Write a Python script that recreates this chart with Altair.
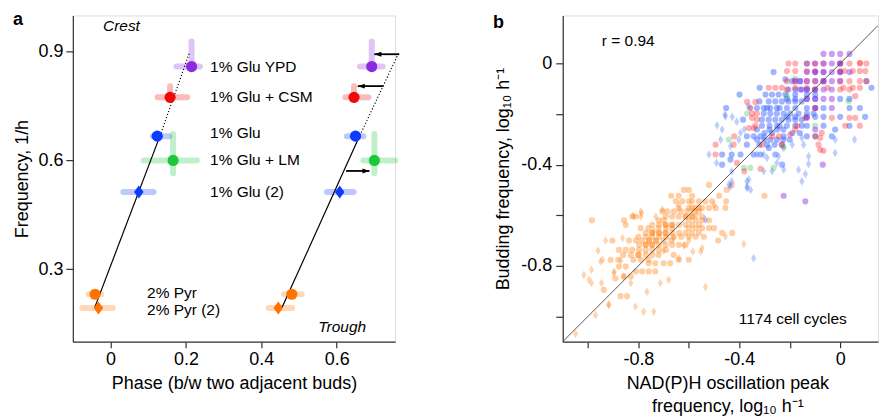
import altair as alt
import pandas as pd

FONT = "Liberation Sans"

# ------------------------------------------------------------------ panel a data
conditions = ["1% Glu YPD", "1% Glu + CSM", "1% Glu", "1% Glu + LM", "1% Glu (2)", "2% Pyr", "2% Pyr (2)"]
cond_shape = ["circle", "circle", "circle", "circle", "diamond", "circle", "diamond"]
cond_color = ["#8a2be2", "#ee0a0a", "#0a3cff", "#1ec83c", "#0a3cff", "#ff7400", "#ff7400"]
freq = [0.859, 0.774, 0.667, 0.600, 0.513, 0.231, 0.193]
freq_lo = [0.855, 0.767, 0.667, 0.565, 0.513, 0.231, 0.193]
freq_hi = [0.928, 0.805, 0.667, 0.673, 0.513, 0.231, 0.193]
phase_crest = [0.215, 0.158, 0.124, 0.166, 0.075, -0.041, -0.032]
crest_lo = [0.175, 0.125, 0.112, 0.088, 0.034, -0.058, -0.075]
crest_hi = [0.237, 0.203, 0.156, 0.229, 0.114, -0.025, 0.006]
phase_trough = [0.693, 0.646, 0.650, 0.700, 0.608, 0.481, 0.445]
trough_lo = [0.662, 0.623, 0.627, 0.671, 0.574, 0.460, 0.420]
trough_hi = [0.722, 0.684, 0.671, 0.755, 0.645, 0.507, 0.482]

fit_x1 = [-0.042, 0.131, 0.455, 0.658]
fit_y1 = [0.194, 0.667, 0.194, 0.661]
fit_x2 = [0.131, 0.209, 0.658, 0.766]
fit_y2 = [0.667, 0.896, 0.661, 0.900]
fit_style = ["solid", "dotted", "solid", "dotted"]

arrow_from = [0.766, 0.724, 0.625]
arrow_to = [0.700, 0.656, 0.687]
arrow_freq = [0.893, 0.805, 0.571]
arrow_dir = ["left", "left", "right"]

label_text = ["1% Glu YPD", "1% Glu + CSM", "1% Glu", "1% Glu + LM", "1% Glu (2)", "2% Pyr", "2% Pyr (2)"]
label_x = [0.264, 0.264, 0.264, 0.264, 0.264, 0.097, 0.097]
label_y = [0.859, 0.775, 0.675, 0.600, 0.513, 0.235, 0.188]
italic_text = ["Crest", "Trough"]
italic_x = [-0.020, 0.678]
italic_y = [0.971, 0.141]
italic_align = ["left", "right"]

# ------------------------------------------------------------------ panel b data
pyr_circle_rows = [
    (-0.480, [-0.52, -0.43]),
    (-0.500, [-0.62, -0.60, -0.45]),
    (-0.523, [-0.67, -0.64, -0.587, -0.48, -0.30]),
    (-0.545, [-0.652, -0.626, -0.600, -0.587, -0.560, -0.534, -0.508, -0.452]),
    (-0.571, [-0.640, -0.600, -0.573, -0.547, -0.520, -0.494, -0.455, -0.587, -0.560]),
    (-0.585, [-0.705, -0.685, -0.659, -0.632, -0.606, -0.580, -0.560]),
    (-0.605, [-0.824, -0.810, -0.692, -0.666, -0.640, -0.613, -0.587, -0.547, -0.613, -0.587]),
    (-0.620, [-0.984, -0.857, -0.720, -0.700, -0.600, -0.573, -0.547, -0.520]),
    (-0.638, [-0.850, -0.745, -0.718, -0.692, -0.666, -0.639, -0.613, -0.587, -0.560, -0.692, -0.666]),
    (-0.651, [-0.791, -0.760, -0.720, -0.690, -0.666, -0.600, -0.573, -0.547, -0.520, -0.500]),
    (-0.670, [-0.771, -0.745, -0.718, -0.692, -0.666, -0.639, -0.613, -0.587, -0.560, -0.468, -0.428,
              -0.745, -0.718, -0.692]),
    (-0.685, [-0.800, -0.770, -0.745, -0.718, -0.690, -0.660, -0.630, -0.600, -0.573, -0.540]),
    (-0.700, [-0.903, -0.837, -0.810, -0.785, -0.758, -0.730, -0.700, -0.670, -0.484, -0.758, -0.730]),
    (-0.717, [-0.797, -0.771, -0.745, -0.718, -0.692, -0.666, -0.639, -0.613, -0.771, -0.745]),
    (-0.737, [-0.877, -0.850, -0.824, -0.797, -0.771, -0.745, -0.718, -0.690]),
    (-0.757, [-0.860, -0.830, -0.800, -0.770, -0.745, -0.720, -0.660, -0.800]),
    (-0.776, [-0.910, -0.880, -0.820, -0.790, -0.760, -0.640, -0.600]),
    (-0.790, [-0.759, -0.733, -0.700, -0.674]),
    (-0.803, [-0.877, -0.850]),
    (-0.822, [-0.810, -0.785, -0.759, -0.733]),
    (-0.842, [-0.858, -0.830]),
    (-0.850, [-0.891]),
    (-0.895, [-0.937]),
    (-0.920, [-0.871, -0.845]),
]
pyr2_x = [-1.049, -1.016, -0.986, -0.996, -0.986, -0.950, -0.946, -0.897, -0.917, -0.970,
          -0.812, -0.779, -0.739, -0.766, -0.713, -0.680, -0.830, -0.858, -0.534, -0.639,
          -0.553, -0.382, -0.455, -0.547, -0.584, -0.863, -0.791, -0.791, -0.821, -0.787,
          -0.731, -0.705, -0.942, -0.896, -0.600, -0.620, -0.660, -0.700, -0.740, -0.640,
          -0.570, -0.500, -0.930, -0.960, -0.870, -0.918]
pyr2_y = [-1.069, -0.836, -0.816, -0.855, -0.868, -0.783, -0.868, -0.829, -0.954, -0.994,
          -0.961, -0.981, -0.981, -0.902, -0.868, -0.855, -0.868, -0.842, -0.884, -0.770,
          -0.743, -0.713, -0.684, -0.730, -0.743, -0.690, -0.585, -0.605, -0.602, -0.591,
          -0.605, -0.578, -0.776, -0.823, -0.700, -0.720, -0.690, -0.740, -0.660, -0.560,
          -0.600, -0.560, -0.700, -0.740, -0.780, -0.954]
glu_circle_rows = [
    (-0.034, [-0.264, 0.000]),
    (-0.063, [-0.217]),
    (-0.070, [0.104, -0.190, -0.160]),
    (-0.096, [-0.319, 0.124]),
    (-0.103, [-0.205, -0.178, -0.152, -0.132, -0.100]),
    (-0.123, [-0.399, -0.296, -0.270, -0.244, -0.217, -0.178, -0.132, -0.099]),
    (-0.140, [-0.211, -0.178, -0.132, -0.099, 0.000, 0.037]),
    (-0.150, [-0.320, -0.283, -0.257, -0.231, -0.205, -0.178, -0.152]),
    (-0.176, [-0.452, -0.330, -0.303, -0.290, -0.277, -0.251, -0.240, -0.211, -0.178, -0.132, -0.099,
              -0.066, 0.037, 0.078]),
    (-0.198, [-0.303, -0.277, -0.251, -0.224, -0.198, -0.165, -0.132, -0.105]),
    (-0.211, [-0.211, -0.178, -0.132, -0.099, -0.066, 0.000, 0.099]),
    (-0.222, [-0.385, -0.310, -0.283, -0.257, -0.231, -0.205, -0.178, -0.152]),
    (-0.246, [-0.310, -0.280, -0.250, -0.240, -0.211, -0.178, -0.152, -0.132, -0.066, 0.037]),
    (-0.261, [-0.330, -0.280, -0.250, -0.225, -0.020]),
    (-0.275, [-0.300, -0.270, -0.190, -0.160]),
    (-0.288, [-0.370, -0.343, -0.316, -0.224, -0.132, -0.099, -0.033]),
    (-0.301, [-0.330, -0.300, -0.277, -0.251, -0.225, -0.200]),
    (-0.321, [-0.370, -0.320, -0.290, -0.260, -0.231]),
    (-0.334, [-0.283]),
    (-0.360, [-0.468, -0.430, -0.395, -0.343, -0.316, -0.257]),
    (-0.380, [-0.435]),
    (-0.400, [-0.468, -0.230]),
]
glu2_x = [-0.534, -0.441, -0.369, -0.152, -0.343, -0.457, -0.428, -0.488, -0.356, -0.468,
          -0.474, -0.402, -0.395, -0.435, -0.362, -0.369, -0.435, -0.290, -0.244, -0.251,
          -0.020, 0.057, -0.020, -0.125, -0.125, -0.165, -0.138, -0.224, -0.224, -0.152,
          -0.365, -0.455, -0.190, -0.145, -0.330, -0.303, -0.490, -0.430, -0.303, -0.270,
          -0.430, -0.370, -0.355, -0.520, -0.410, -0.380, -0.300]
glu2_y = [-0.618, -0.479, -0.492, -0.466, -0.770, -0.202, -0.211, -0.244, -0.176, -0.261,
          -0.301, -0.301, -0.274, -0.327, -0.459, -0.486, -0.486, -0.373, -0.367, -0.393,
          -0.301, -0.301, -0.354, -0.367, -0.397, -0.420, -0.437, -0.420, -0.334, -0.294,
          -0.169, -0.209, -0.321, -0.321, -0.360, -0.360, -0.393, -0.426, -0.426, -0.426,
          -0.466, -0.466, -0.500, -0.360, -0.230, -0.260, -0.290]
csm_rows = [
    (0.003, [0.079]),
    (0.000, [-0.205, -0.178, -0.132, -0.100, -0.066, 0.000, 0.037, 0.078, 0.104]),
    (-0.030, [-0.211, -0.178, -0.132, -0.099, 0.000, 0.017, 0.050, 0.078, 0.100]),
    (-0.070, [-0.211, -0.178, -0.132, -0.099, -0.066, 0.000, 0.037, 0.078, 0.104]),
    (-0.096, [-0.283, -0.257, -0.231, -0.178, -0.132, -0.050, 0.013, 0.050, 0.078]),
    (-0.103, [-0.211, -0.099, 0.000, 0.037]),
    (-0.129, [0.060]),
    (-0.152, [-0.369, -0.336]),
    (-0.176, [-0.356, -0.099]),
    (-0.198, [-0.349, -0.330]),
    (-0.215, [-0.349, -0.138, -0.033, 0.037, 0.060]),
    (-0.222, [-0.330]),
    (-0.246, [-0.336, -0.170, 0.020, 0.078]),
    (-0.255, [-0.362, -0.343]),
    (-0.261, [-0.178]),
    (-0.274, [-0.073]),
    (-0.281, [-0.198]),
    (-0.288, [-0.420, -0.270, -0.243, -0.098]),
    (-0.294, [-0.079]),
    (-0.321, [-0.494, -0.422, -0.310, -0.231, -0.086]),
    (-0.341, [-0.079]),
    (-0.345, [-0.066]),
    (-0.360, [-0.494]),
    (-0.393, [-0.409]),
    (-0.416, [-0.316]),
    (-0.426, [-0.380]),
]
ypd_rows = [
    (0.038, [-0.066, -0.033, 0.000, 0.037]),
    (0.000, [-0.132, -0.099, -0.066, -0.033, 0.000, 0.000]),
    (-0.034, [-0.132, -0.099, -0.099, -0.066, -0.066, -0.033, 0.000, 0.037]),
    (-0.070, [-0.178, -0.158, -0.132, -0.099, -0.066, -0.066, -0.033, 0.000]),
    (-0.103, [-0.158, -0.132, -0.099, -0.066, -0.033]),
    (-0.140, [-0.132, -0.099, -0.066, -0.033]),
    (-0.176, [-0.099, -0.033]),
    (-0.215, [-0.132]),
    (-0.261, [-0.099]),
    (-0.400, [-0.069]),
    (-0.523, [-0.224]),
    (-0.545, [-0.138]),
]
lm_x = [-0.369, -0.441, -0.382, -0.356, -0.264, -0.211, 0.033, -0.099, -0.178, -0.224]
lm_y = [-0.198, -0.301, -0.413, -0.413, -0.413, -0.129, -0.149, -0.246, -0.060, -0.330]

diag = [-1.1, 0.15]
b_text = ["r = 0.94", "1174 cell cycles"]
b_text_x = [-0.945, 0.026]
b_text_y = [0.088, -1.011]
b_text_align = ["left", "right"]


def rows_to_df(rows, series):
    recs = [{"x": x, "y": y, "series": series} for y, xs in rows for x in xs]
    return pd.DataFrame(recs)


# ------------------------------------------------------------------ common styles
axis_style = dict(
    grid=False, domainColor="#333333", tickColor="#333333", labelColor="#000000",
    titleColor="#000000", labelFont=FONT, titleFont=FONT, labelFontSize=18,
    titleFontSize=18, titleFontWeight="normal", domainWidth=1.2, tickWidth=1.2,
)
DIAMOND_A = "M0,-1L0.72,0L0,1L-0.72,0Z"
DIAMOND_B = "M0,-1L0.6,0L0,1L-0.6,0Z"
HEAD_LEFT = "M0,0L2,-0.7L2,0.7Z"
HEAD_RIGHT = "M0,0L-2,-0.7L-2,0.7Z"

# ------------------------------------------------------------------ panel a
xa_scale = alt.Scale(domain=[-0.1, 0.755], nice=False, zero=False)
ya_scale = alt.Scale(domain=[0.1, 1.0], nice=False, zero=False)
xa_axis = alt.Axis(values=[0, 0.2, 0.4, 0.6],
                   labelExpr="datum.value == 0 ? '0' : format(datum.value, '.1f')",
                   title="Phase (b/w two adjacent buds)", tickSize=6, labelPadding=3,
                   titlePadding=6, **axis_style)
ya_axis = alt.Axis(values=[0.3, 0.6, 0.9], format=".1f", title="Frequency, 1/h",
                   tickSize=7, labelPadding=3, titlePadding=6, **axis_style)


def XA(f):
    return alt.X(f, type="quantitative", scale=xa_scale, axis=xa_axis)


def YA(f):
    return alt.Y(f, type="quantitative", scale=ya_scale, axis=ya_axis)


pts = []
for i, c in enumerate(conditions):
    for ph, lo, hi in [(phase_crest[i], crest_lo[i], crest_hi[i]),
                       (phase_trough[i], trough_lo[i], trough_hi[i])]:
        pts.append(dict(cond=c, phase=ph, lo=lo, hi=hi, freq=freq[i], flo=freq_lo[i],
                        fhi=freq_hi[i], color=cond_color[i], shape=cond_shape[i]))
pts = pd.DataFrame(pts)
vert = pts[pts["fhi"] > pts["flo"]]
fits = pd.DataFrame(dict(x1=fit_x1, y1=fit_y1, x2=fit_x2, y2=fit_y2, style=fit_style))
arrows = pd.DataFrame(dict(x1=arrow_from, x2=arrow_to, y=arrow_freq, d=arrow_dir))
labels = pd.DataFrame(dict(t=label_text, x=label_x, y=label_y))
ital = pd.DataFrame(dict(t=italic_text, x=italic_x, y=italic_y, a=italic_align))

color_id = alt.Color("color:N", scale=None)

hbar = alt.Chart(pts).mark_rule(strokeWidth=6, strokeCap="round", opacity=0.28).encode(
    x=XA("lo"), x2="hi", y=YA("freq"), color=color_id)
vbar = alt.Chart(vert).mark_rule(strokeWidth=6, strokeCap="round", opacity=0.28).encode(
    x=XA("phase"), y=YA("flo"), y2="fhi", color=color_id)
fit_solid = alt.Chart(fits[fits["style"] == "solid"]).mark_rule(color="black", strokeWidth=1.2).encode(
    x=XA("x1"), y=YA("y1"), x2="x2", y2="y2")
fit_dot = alt.Chart(fits[fits["style"] == "dotted"]).mark_rule(
    color="black", strokeWidth=1.1, strokeDash=[1.2, 2]).encode(x=XA("x1"), y=YA("y1"), x2="x2", y2="y2")
circ_a = alt.Chart(pts[pts["shape"] == "circle"]).mark_point(
    filled=True, opacity=1, size=125, shape="circle").encode(x=XA("phase"), y=YA("freq"), color=color_id)
diam_a = alt.Chart(pts[pts["shape"] == "diamond"]).mark_point(
    filled=True, opacity=1, size=175, shape=DIAMOND_A).encode(x=XA("phase"), y=YA("freq"), color=color_id)
arr_line = alt.Chart(arrows).mark_rule(color="black", strokeWidth=1.8).encode(
    x=XA("x1"), x2="x2", y=YA("y"))
arr_left = alt.Chart(arrows[arrows["d"] == "left"]).mark_point(
    filled=True, opacity=1, color="black", size=49, shape=HEAD_LEFT).encode(x=XA("x2"), y=YA("y"))
arr_right = alt.Chart(arrows[arrows["d"] == "right"]).mark_point(
    filled=True, opacity=1, color="black", size=49, shape=HEAD_RIGHT).encode(x=XA("x2"), y=YA("y"))
txt_a = alt.Chart(labels).mark_text(align="left", baseline="middle", font=FONT, fontSize=15.5,
                                    color="black").encode(x=XA("x"), y=YA("y"), text="t:N")
crest = alt.Chart(ital[ital["a"] == "left"]).mark_text(
    align="left", baseline="middle", font=FONT, fontSize=15.5, fontStyle="italic", color="black"
).encode(x=XA("x"), y=YA("y"), text="t:N")
trough = alt.Chart(ital[ital["a"] == "right"]).mark_text(
    align="right", baseline="middle", font=FONT, fontSize=15.5, fontStyle="italic", color="black"
).encode(x=XA("x"), y=YA("y"), text="t:N")
tag_a = alt.Chart(pd.DataFrame({"t": ["a"]})).mark_text(
    align="left", baseline="alphabetic", font=FONT, fontSize=18, fontWeight="bold", color="black"
).encode(text="t:N", x=alt.value(-60), y=alt.value(10))

panel_a = alt.layer(hbar, vbar, fit_solid, fit_dot, circ_a, diam_a, arr_line, arr_left, arr_right,
                    txt_a, crest, trough, tag_a).properties(width=323, height=327)

# ------------------------------------------------------------------ panel b
xb_scale = alt.Scale(domain=[-1.1, 0.15], nice=False, zero=False)
yb_scale = alt.Scale(domain=[-1.1, 0.19], nice=False, zero=False)
tick_vals = [-1.0, -0.8, -0.6, -0.4, -0.2, 0.0]
lab_expr = ("abs(datum.value) < 1e-9 ? '0' : abs(datum.value + 0.4) < 1e-9 ? '-0.4' : "
            "abs(datum.value + 0.8) < 1e-9 ? '-0.8' : ''")
xb_axis = alt.Axis(values=tick_vals, labelExpr=lab_expr,
                   title=["NAD(P)H oscillation peak", "frequency, log\u2081\u2080 h\u207b\u00b9"],
                   titleX=165, titleLineHeight=23, tickSize=6, labelPadding=3, titlePadding=6,
                   **axis_style)
yb_axis = alt.Axis(values=tick_vals, labelExpr=lab_expr,
                   title="Budding frequency, log\u2081\u2080 h\u207b\u00b9",
                   tickSize=7, labelPadding=4, titlePadding=8, **axis_style)


def XB(f):
    return alt.X(f, type="quantitative", scale=xb_scale, axis=xb_axis)


def YB(f):
    return alt.Y(f, type="quantitative", scale=yb_scale, axis=yb_axis)


pyr_c = rows_to_df(pyr_circle_rows, "pyr")
pyr_d = pd.DataFrame(dict(x=pyr2_x, y=pyr2_y))
glu_c = rows_to_df(glu_circle_rows, "glu")
glu_d = pd.DataFrame(dict(x=glu2_x, y=glu2_y))
csm_c = rows_to_df(csm_rows, "csm")
ypd_c = rows_to_df(ypd_rows, "ypd")
lm_c = pd.DataFrame(dict(x=lm_x, y=lm_y))


def dots(df, color, shape, size, op):
    return alt.Chart(df).mark_point(filled=True, opacity=op, size=size, shape=shape,
                                    color=color, strokeWidth=0).encode(x=XB("x"), y=YB("y"))


diag_line = alt.Chart(pd.DataFrame({"d": diag})).mark_line(
    color="#555555", strokeWidth=1, clip=True).encode(x=XB("d"), y=YB("d"))
btxt = pd.DataFrame(dict(t=b_text, x=b_text_x, y=b_text_y, a=b_text_align))
r_txt = alt.Chart(btxt[btxt["a"] == "left"]).mark_text(
    align="left", baseline="middle", font=FONT, fontSize=15.5, color="black"
).encode(x=XB("x"), y=YB("y"), text="t:N")
n_txt = alt.Chart(btxt[btxt["a"] == "right"]).mark_text(
    align="right", baseline="middle", font=FONT, fontSize=15.5, color="black"
).encode(x=XB("x"), y=YB("y"), text="t:N")
tag_b = alt.Chart(pd.DataFrame({"t": ["b"]})).mark_text(
    align="left", baseline="alphabetic", font=FONT, fontSize=18, fontWeight="bold", color="black"
).encode(text="t:N", x=alt.value(-70), y=alt.value(13))

panel_b = alt.layer(
    dots(pyr_c, "#ff7f0e", "circle", 38, 0.38),
    dots(pyr_d, "#ff7f0e", DIAMOND_B, 75, 0.33),
    dots(glu_d, "#2a5cff", DIAMOND_B, 75, 0.3),
    dots(glu_c, "#1f4dff", "circle", 38, 0.42),
    dots(lm_c, "#22bb44", "circle", 38, 0.3),
    dots(csm_c, "#ff1a1a", "circle", 38, 0.34),
    dots(ypd_c, "#8a2be2", "circle", 38, 0.45),
    diag_line, r_txt, n_txt, tag_b,
).properties(width=316, height=327)

chart = alt.hconcat(panel_a, panel_b, spacing=168, bounds="flush").properties(
    padding={"left": 12, "top": 10, "right": 0, "bottom": 0},
    background="white",
).configure_view(stroke=None).configure(font=FONT)

chart.save("out.html", embed_options={"renderer": "svg", "actions": False})
